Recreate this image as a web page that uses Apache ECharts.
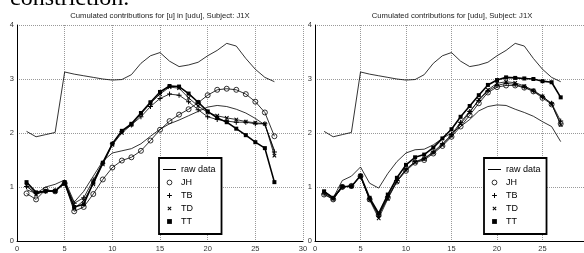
<!DOCTYPE html>
<html><head><meta charset="utf-8">
<script src="https://cdn.jsdelivr.net/npm/echarts/dist/echarts.min.js"></script>
<style>html,body{margin:0;padding:0;background:#fff}#c{width:584px;height:253px}</style>
</head><body><div id="c"></div>
<script>
// ---- data ----
var xs = [1,2,3,4,5,6,7,8,9,10,11,12,13,14,15,16,17,18,19,20,21,22,23,24,25,26,27];

var leftRawUpper = [2.03,1.93,1.97,2.01,3.13,3.09,3.06,3.03,3.00,2.98,2.99,3.08,3.29,3.43,3.49,3.33,3.23,3.26,3.31,3.43,3.53,3.66,3.61,3.38,3.18,3.03,2.95];
var leftRawLower = [0.95,0.88,1.00,1.05,1.13,0.72,0.92,1.20,1.48,1.63,1.67,1.71,1.80,1.94,2.07,2.17,2.24,2.32,2.40,2.48,2.51,2.49,2.44,2.37,2.27,2.15,1.68];
var leftJH = [0.88,0.77,0.95,0.92,1.07,0.55,0.63,0.87,1.14,1.36,1.49,1.55,1.67,1.86,2.06,2.22,2.34,2.44,2.56,2.70,2.80,2.82,2.80,2.72,2.58,2.38,1.94];
var leftTB = [1.01,0.88,0.92,0.93,1.07,0.70,0.80,1.13,1.44,1.80,2.03,2.15,2.30,2.49,2.64,2.72,2.70,2.58,2.43,2.30,2.25,2.22,2.20,2.20,2.17,2.17,1.65];
var leftTD = [1.03,0.86,0.93,0.93,1.06,0.60,0.75,1.05,1.42,1.78,2.00,2.15,2.35,2.55,2.72,2.85,2.83,2.65,2.50,2.38,2.32,2.28,2.25,2.21,2.19,2.17,1.58];
var leftTT = [1.09,0.90,0.92,0.92,1.09,0.63,0.68,1.08,1.45,1.80,2.04,2.17,2.37,2.57,2.76,2.87,2.86,2.73,2.57,2.40,2.28,2.20,2.08,1.96,1.83,1.72,1.09];

var rightRawUpper = [2.03,1.93,1.97,2.01,3.13,3.09,3.06,3.03,3.00,2.98,2.99,3.08,3.29,3.43,3.49,3.33,3.23,3.26,3.31,3.43,3.53,3.66,3.61,3.38,3.18,3.03,2.95];
var rightRawLower = [0.92,0.80,1.12,1.20,1.37,1.07,0.98,1.25,1.47,1.63,1.69,1.70,1.78,1.90,2.00,2.12,2.25,2.41,2.49,2.52,2.51,2.44,2.38,2.31,2.21,2.12,1.84];
var rightJH = [0.86,0.77,1.00,1.02,1.20,0.77,0.48,0.80,1.10,1.30,1.45,1.50,1.62,1.76,1.93,2.12,2.33,2.55,2.75,2.85,2.88,2.88,2.84,2.77,2.65,2.53,2.17];
var rightTB = [0.87,0.78,1.00,1.02,1.20,0.78,0.46,0.82,1.12,1.33,1.47,1.53,1.65,1.80,1.97,2.20,2.40,2.60,2.78,2.88,2.92,2.90,2.85,2.78,2.67,2.55,2.22];
var rightTD = [0.90,0.78,1.00,1.02,1.20,0.76,0.42,0.78,1.10,1.32,1.46,1.52,1.64,1.78,1.95,2.17,2.38,2.62,2.80,2.92,2.95,2.93,2.87,2.79,2.68,2.54,2.15];
var rightTT = [0.92,0.80,1.01,1.01,1.21,0.80,0.51,0.86,1.17,1.41,1.55,1.60,1.73,1.90,2.07,2.30,2.50,2.70,2.89,2.98,3.03,3.02,3.01,3.00,2.96,2.94,2.66];

var xTicks = [0,30,5];   // min, max, interval
var yTicks = [0,4,1];
var leftTitle = 'Cumulated contributions for [u] in [udu], Subject: J1X';
var rightTitle = 'Cumulated contributions for [udu], Subject: J1X';
var legendNames = ['raw data','JH','TB','TD','TT'];

// ---- chart ----
var FF = '"Liberation Sans", Arial, sans-serif';
var PLUS = 'path://M4,0H6V4H10V6H6V10H4V6H0V4H4Z';

function pairs(arr){ return arr.map(function(v,i){ return [xs[i], v]; }); }

function raw(name, arr, gi){
  return {type:'line', name:name, xAxisIndex:gi, yAxisIndex:gi, data:pairs(arr),
    symbol:'none', lineStyle:{color:'#000', width:0.8}, itemStyle:{color:'#000'}, z:2, silent:true};
}
function marked(name, arr, gi, sym, size, rot, lw, fill, bw){
  return {type:'line', name:name, xAxisIndex:gi, yAxisIndex:gi, data:pairs(arr),
    symbol:sym, symbolSize:size, symbolRotate:rot, showSymbol:true,
    lineStyle:{color:'#000', width:lw},
    itemStyle:{color:fill, borderColor:'#000', borderWidth:bw},
    z:3, silent:true};
}
function seriesFor(gi, up, low, jh, tb, td, tt){
  return [
    raw('raw data', up, gi),
    raw('raw data', low, gi),
    marked('JH', jh, gi, 'circle', 5, 0, 0.8, 'rgba(0,0,0,0)', 0.8),
    marked('TB', tb, gi, PLUS, 5, 0, 0.8, '#000', 0),
    marked('TD', td, gi, PLUS, 5, 45, 0.8, '#000', 0),
    marked('TT', tt, gi, 'rect', 4, 0, 1.6, '#000', 0)
  ];
}
function xAx(gi){
  return {gridIndex:gi, type:'value', min:xTicks[0], max:xTicks[1], interval:xTicks[2],
    axisLine:{show:true, onZero:false, lineStyle:{color:'#000', width:1}},
    axisTick:{show:false},
    axisLabel:{fontSize:7.5, color:'#333', margin:4, fontFamily:FF, showMaxLabel:true},
    splitLine:{show:true, lineStyle:{type:'dotted', color:'#999', width:1}}};
}
function yAx(gi){
  return {gridIndex:gi, type:'value', min:yTicks[0], max:yTicks[1], interval:yTicks[2],
    axisLine:{show:true, onZero:false, lineStyle:{color:'#000', width:1}},
    axisTick:{show:false},
    axisLabel:{fontSize:7.5, color:'#333', margin:3, fontFamily:FF},
    splitLine:{show:true, lineStyle:{type:'dotted', color:'#999', width:1}}};
}
function lg(left){
  return {left:left, top:158, orient:'vertical', padding:[7,6,8,3], itemGap:4,
    itemWidth:13, itemHeight:6, backgroundColor:'#fff', borderColor:'#000', borderWidth:1.8,
    selectedMode:false, textStyle:{fontSize:9, fontFamily:FF, color:'#000', lineHeight:9},
    data:[
      {name:legendNames[0], itemStyle:{opacity:0}, lineStyle:{width:1}},
      {name:legendNames[1], lineStyle:{opacity:0}, itemStyle:{borderWidth:0.8}},
      {name:legendNames[2], lineStyle:{opacity:0}},
      {name:legendNames[3], lineStyle:{opacity:0}},
      {name:legendNames[4], lineStyle:{opacity:0}}
    ]};
}

var chart = echarts.init(document.getElementById('c'), null, {renderer:'canvas'});
chart.setOption({
  animation:false,
  backgroundColor:'#fff',
  grid:[
    {left:17, top:25, width:286, height:216, outerBoundsMode:'none', containLabel:false},
    {left:315, top:25, width:273, height:216, outerBoundsMode:'none', containLabel:false}
  ],
  xAxis:[xAx(0), xAx(1)],
  yAxis:[yAx(0), yAx(1)],
  legend:[lg(159), lg(484)],
  series: seriesFor(0, leftRawUpper, leftRawLower, leftJH, leftTB, leftTD, leftTT)
    .concat(seriesFor(1, rightRawUpper, rightRawLower, rightJH, rightTB, rightTD, rightTT)),
  graphic:[
    {type:'text', left:10, top:-13, style:{text:'constriction.', font:'24px "Liberation Serif", "Times New Roman", serif', fill:'#000'}},
    {type:'text', x:160, y:16, style:{text:leftTitle, font:'7.7px ' + FF, fill:'#222', align:'center', verticalAlign:'middle'}},
    {type:'text', x:452, y:16, style:{text:rightTitle, font:'7.7px ' + FF, fill:'#222', align:'center', verticalAlign:'middle'}}
  ]
});
</script></body></html>
